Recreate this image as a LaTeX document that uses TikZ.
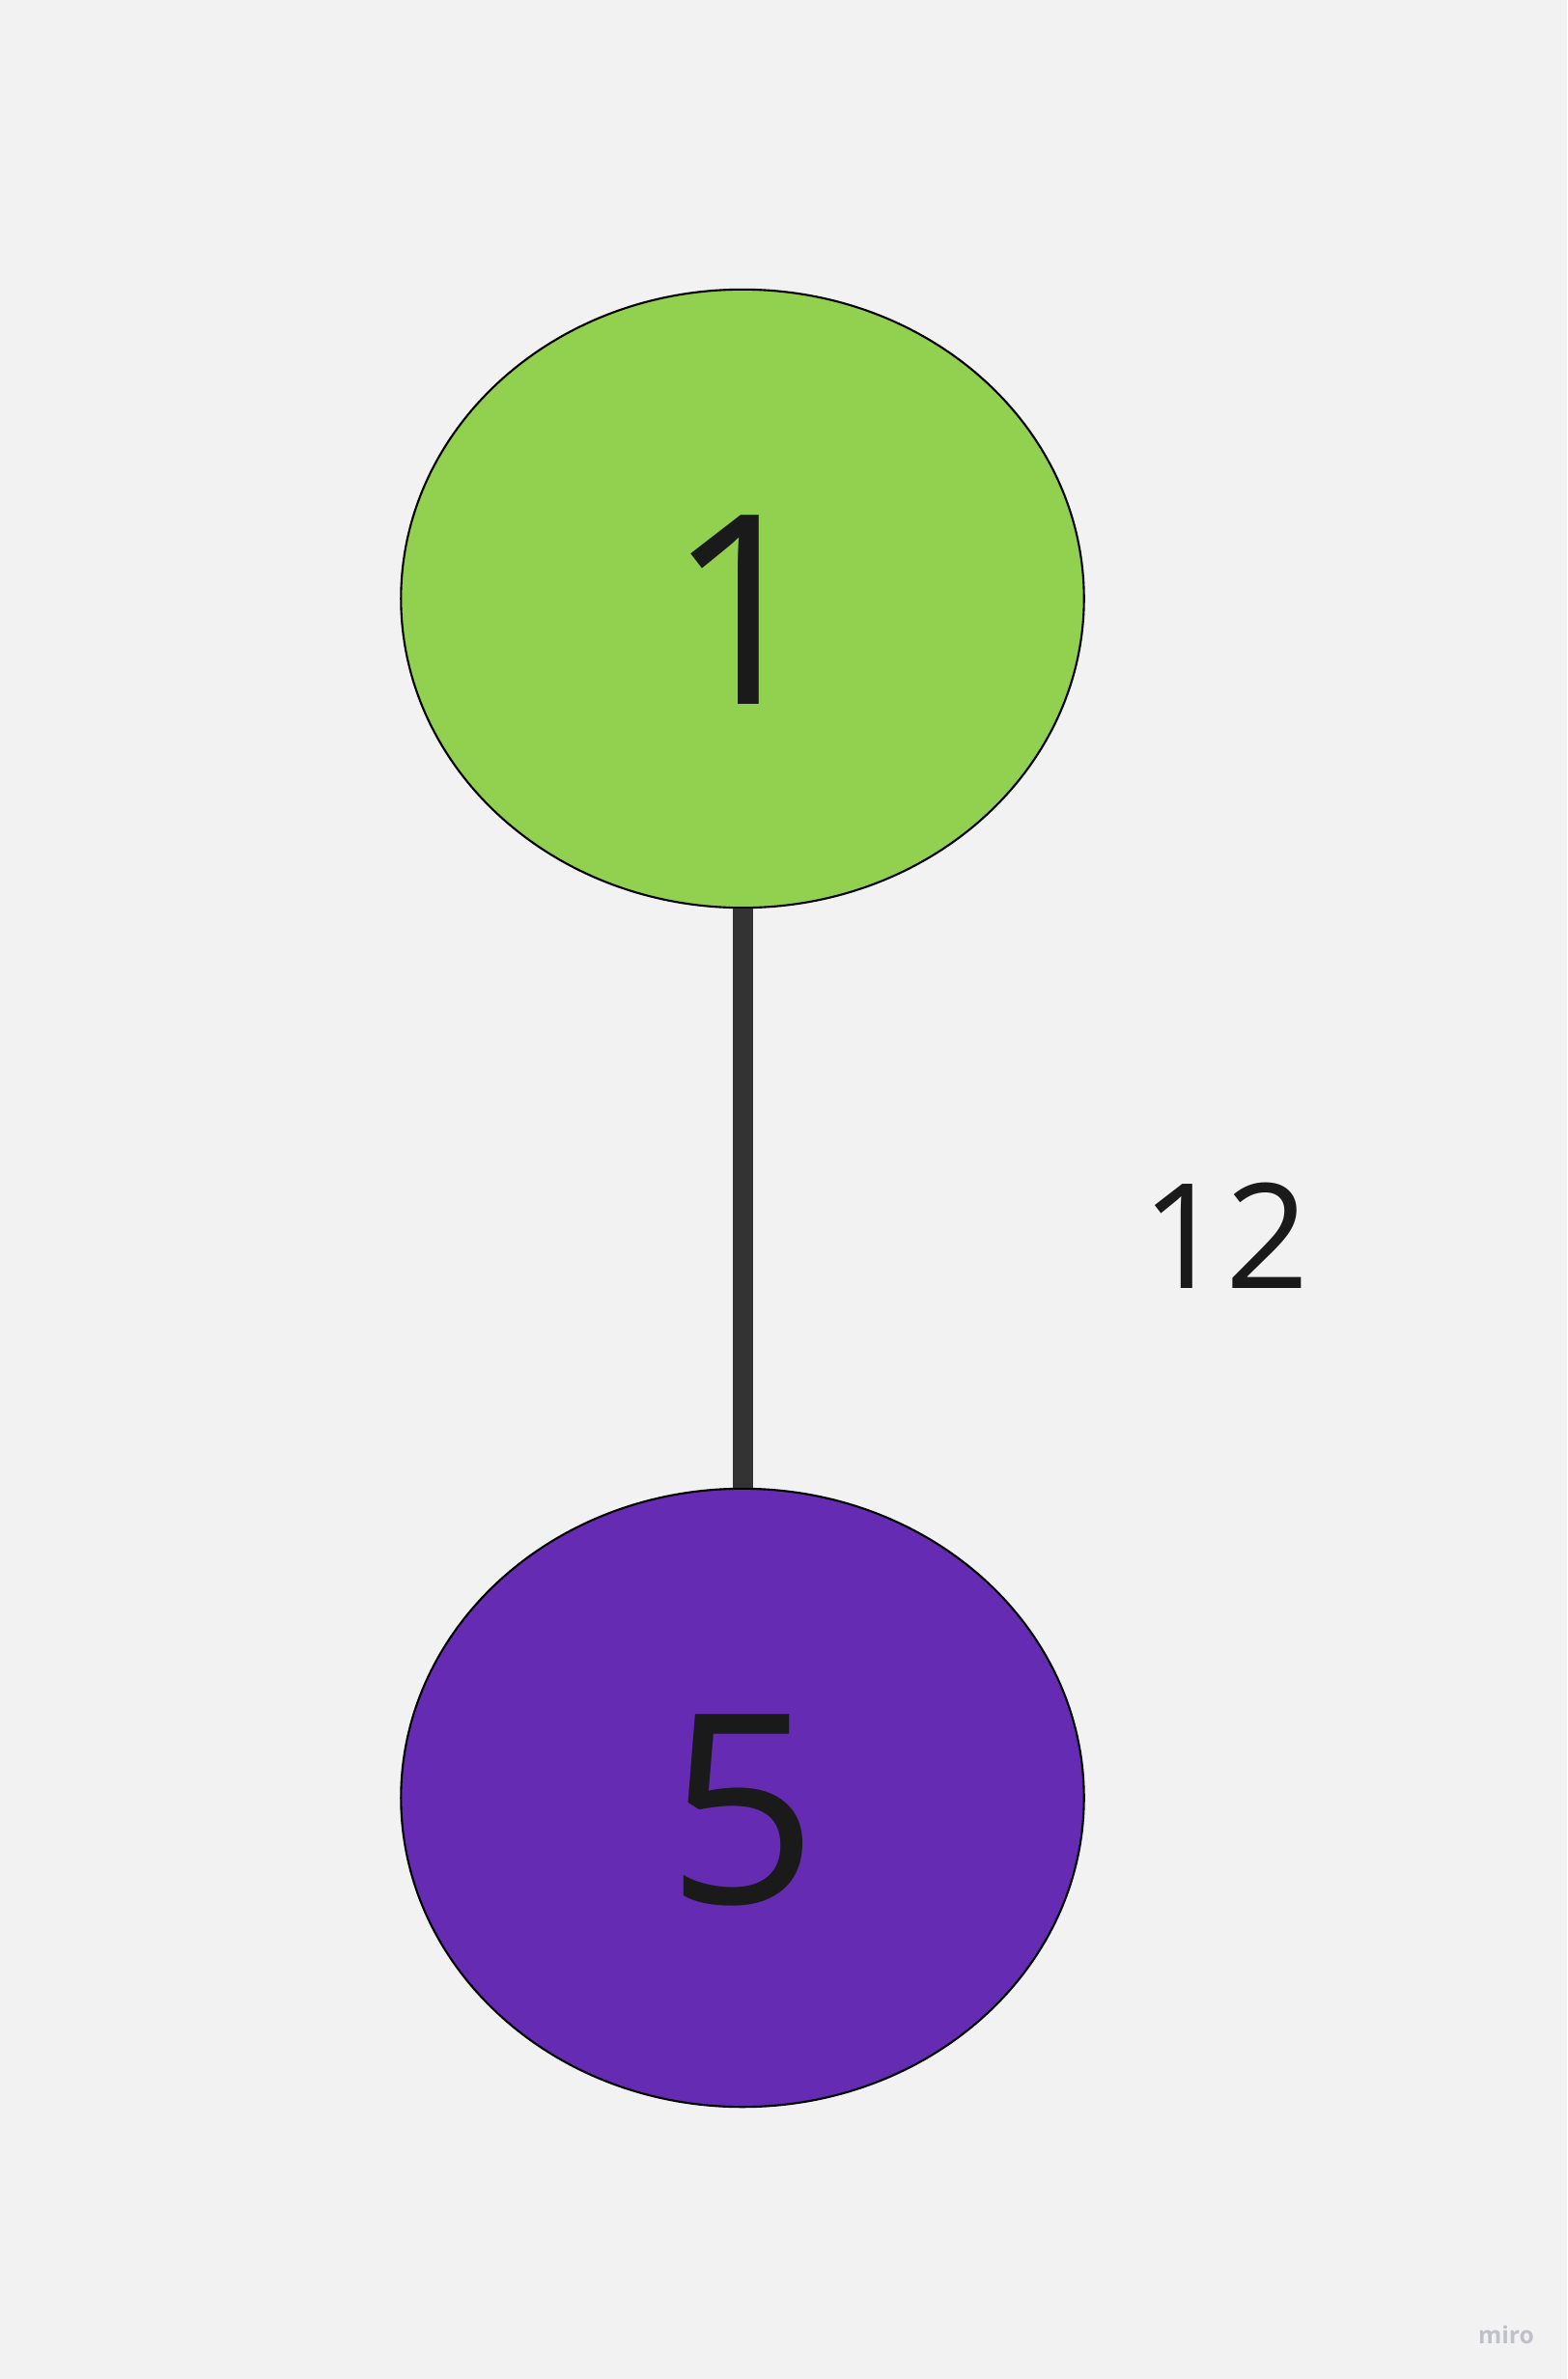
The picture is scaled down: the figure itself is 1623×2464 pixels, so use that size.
\documentclass[tikz,border=0pt]{standalone}
\usepackage{fontspec}
\setmainfont{Open Sans}
\usetikzlibrary{shapes.geometric, positioning}

\definecolor{boardgray}{HTML}{F2F2F2}
\definecolor{nodegreen}{HTML}{91D14F}
\definecolor{nodepurple}{HTML}{652CB3}
\definecolor{edgegray}{HTML}{333333}
\definecolor{textblack}{HTML}{1A1A1A}
\definecolor{markgray}{HTML}{BFC0C8}

\begin{document}
\begin{tikzpicture}[
    x=0.01cm, y=-0.01cm,
    % Estilos de nodos
    vertex/.style={ellipse, draw=black, line width=0.6pt, minimum width=7.07cm, minimum height=6.40cm, inner sep=0pt, text=textblack, text height=2.18cm, text depth=0pt, font=\fontsize{78}{78}\selectfont},
    edgeline/.style={line width=0.21cm, edgegray},
    weightlabel/.style={text=textblack, font=\fontsize{43}{43}\selectfont}
]

% Fondo
\fill[boardgray] (0,0) rectangle (1623,2464);

% -------------------------
% VERTICES
% -------------------------
\node[vertex, fill=nodegreen] (one) at (769,620) {1};
\node[vertex, fill=nodepurple] (five) at (769,1862) {5};

% -------------------------
% ARISTA
% -------------------------
\draw[edgeline] (one) -- (five);
\node[weightlabel] (weight) at (1269,1280) {12};

% Marca de agua
\node[text=markgray, font=\fontsize{7}{7}\selectfont\bfseries] (miro) at (1560,2418) {miro};

\end{tikzpicture}
\end{document}
